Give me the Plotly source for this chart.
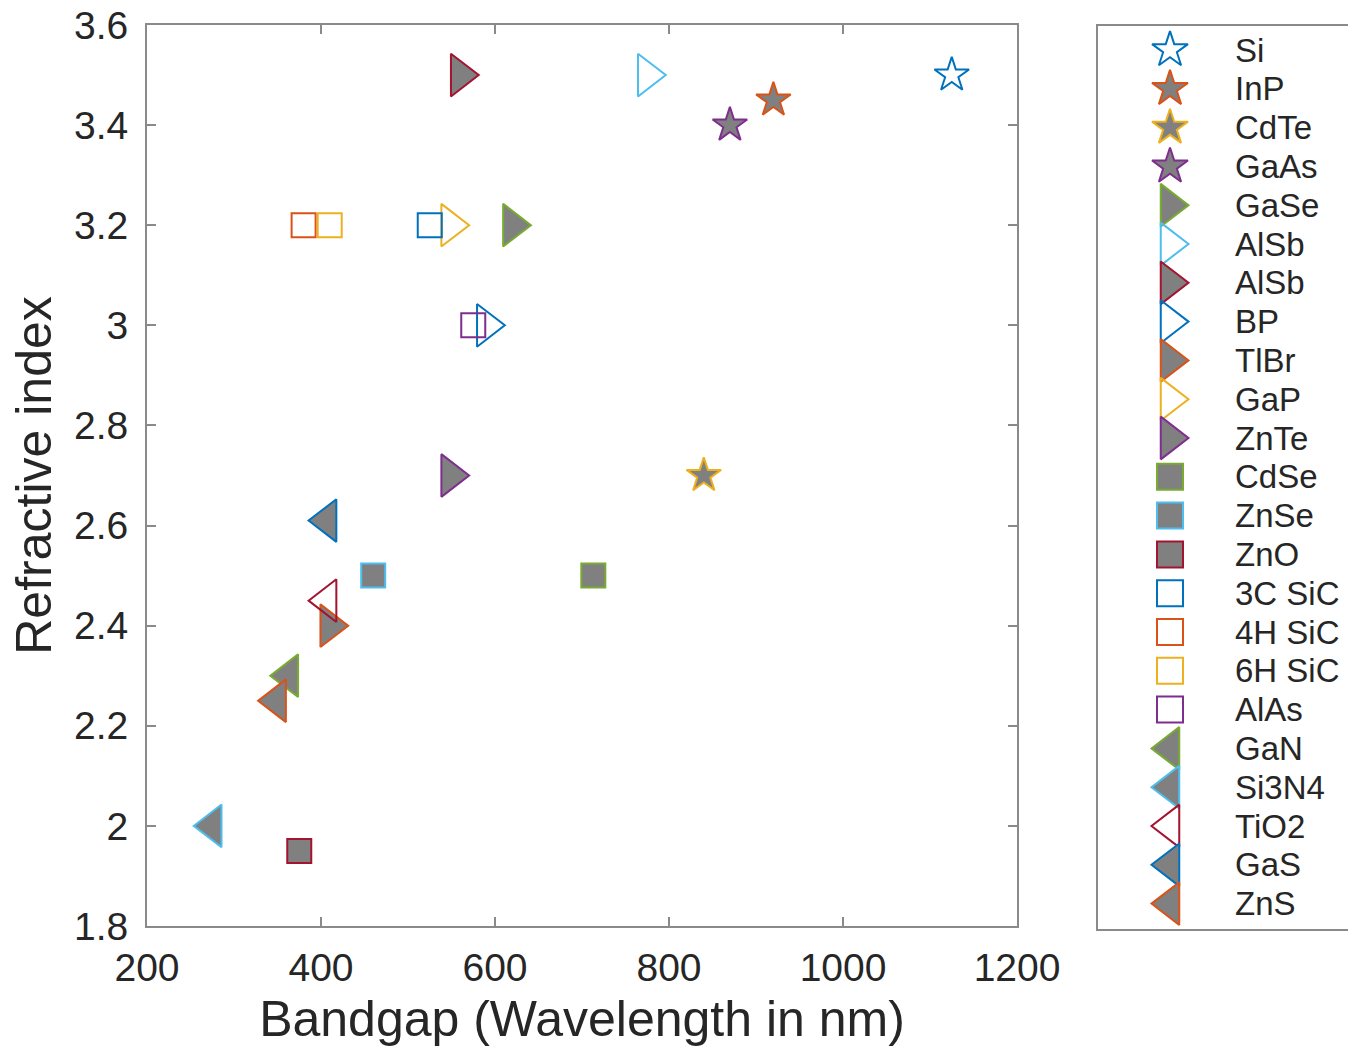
import plotly.graph_objects as go

# Semiconductor / dielectric materials: bandgap expressed as a wavelength (nm)
# and refractive index
materials = ["Si", "InP", "CdTe", "GaAs", "GaSe", "AlSb", "AlSb", "BP", "TlBr",
             "GaP", "ZnTe", "CdSe", "ZnSe", "ZnO", "3C SiC", "4H SiC", "6H SiC",
             "AlAs", "GaN", "Si3N4", "TiO2", "GaS", "ZnS"]
wavelength_nm = [1125, 920, 840, 870, 620, 775, 560, 590, 410,
                 549, 549, 713, 460, 375, 525, 380, 410,
                 575, 363, 275, 407, 407, 349]
refractive_index = [3.5, 3.45, 2.7, 3.4, 3.2, 3.5, 3.5, 3.0, 2.4,
                    3.2, 2.7, 2.5, 2.5, 1.95, 3.2, 3.2, 3.2,
                    3.0, 2.3, 2.0, 2.45, 2.61, 2.25]

x_ticks = [200, 400, 600, 800, 1000, 1200]
y_ticks = [1.8, 2.0, 2.2, 2.4, 2.6, 2.8, 3.0, 3.2, 3.4, 3.6]

# ---- styling -------------------------------------------------------------
W, H = 1348, 1050
L, R, T, B = 147, 1017, 25, 926          # axes frame in pixels
LEG_L, LEG_T, LEG_B = 1097, 25, 930      # legend box in pixels
ROW0, ROW_STEP = 50, 38.8                # legend row layout

palette = ["#0072BD", "#D95319", "#EDB120", "#7E2F8E",
           "#77AC30", "#4DBEEE", "#A2142F"]
symbols = (["star"] * 4 + ["triangle-right"] * 7 +
           ["square"] * 7 + ["triangle-left"] * 5)
filled = [False, True, True, True,
          True, False, True, False, True, False, True,
          True, True, True, False, False, False, False,
          True, True, False, True, True]
sizes = {"star": 26, "triangle-right": 37, "triangle-left": 37, "square": 24}
legend_sizes = {"star": 27, "triangle-right": 37, "triangle-left": 37,
                "square": 26}
FACE = "rgb(128,128,128)"
FRAME = "#8a8a8a"
TEXT = "#262626"
FONT = "Liberation Sans, Arial, Helvetica, sans-serif"

fig = go.Figure()

n = len(materials)
for i in range(n):
    edge = palette[i % len(palette)]
    face = FACE if filled[i] else "rgba(0,0,0,0)"
    # data point
    fig.add_trace(go.Scatter(
        x=[wavelength_nm[i]], y=[refractive_index[i]], mode="markers",
        marker=dict(symbol=symbols[i], size=sizes[symbols[i]], color=face,
                    line=dict(color=edge, width=2)),
        name=materials[i], showlegend=False,
        xaxis="x", yaxis="y", cliponaxis=False))
    # legend swatch
    fig.add_trace(go.Scatter(
        x=[73], y=[i], mode="markers",
        marker=dict(symbol=symbols[i], size=legend_sizes[symbols[i]],
                    color=face, line=dict(color=edge, width=2)),
        showlegend=False, hoverinfo="skip",
        xaxis="x2", yaxis="y2", cliponaxis=False))
    fig.add_annotation(
        x=136, y=i, xref="x2", yref="y2", text=materials[i],
        showarrow=False, xanchor="left", yanchor="middle",
        font=dict(family=FONT, size=33, color=TEXT))

leg_top_val = (LEG_T - ROW0) / ROW_STEP
leg_bot_val = (LEG_B - ROW0) / ROW_STEP

axis_common = dict(
    showgrid=False, zeroline=False, showline=True, linecolor=FRAME,
    linewidth=2, mirror="ticks", ticks="inside", ticklen=9, tickwidth=1.5,
    tickcolor=FRAME, automargin=False,
    tickfont=dict(family=FONT, size=39, color=TEXT),
)

fig.update_layout(
    width=W, height=H,
    margin=dict(l=0, r=0, t=0, b=0),
    paper_bgcolor="white", plot_bgcolor="white",
    showlegend=False,
    xaxis=dict(
        axis_common, domain=[L / W, R / W], range=[200, 1200],
        tickvals=x_ticks, ticktext=[str(v) for v in x_ticks],
        ticklabelstandoff=6,
        title=dict(text="Bandgap (Wavelength in nm)", standoff=13,
                   font=dict(family=FONT, size=50, color=TEXT)),
    ),
    yaxis=dict(
        axis_common, domain=[1 - B / H, 1 - T / H], range=[1.8, 3.6],
        tickvals=y_ticks, ticktext=[f"{v:g}" for v in y_ticks],
        ticklabelstandoff=9,
        title=dict(text="Refractive index", standoff=6,
                   font=dict(family=FONT, size=50, color=TEXT)),
    ),
    xaxis2=dict(domain=[LEG_L / W, 1], range=[0, W - LEG_L], visible=False,
                fixedrange=True),
    yaxis2=dict(domain=[1 - LEG_B / H, 1 - LEG_T / H],
                range=[leg_bot_val, leg_top_val], visible=False,
                fixedrange=True),
    shapes=[dict(type="rect", xref="paper", yref="paper",
                 x0=LEG_L / W, x1=1.01, y0=1 - LEG_B / H, y1=1 - LEG_T / H,
                 line=dict(color=FRAME, width=2))],
)

fig.write_html("out.html")
